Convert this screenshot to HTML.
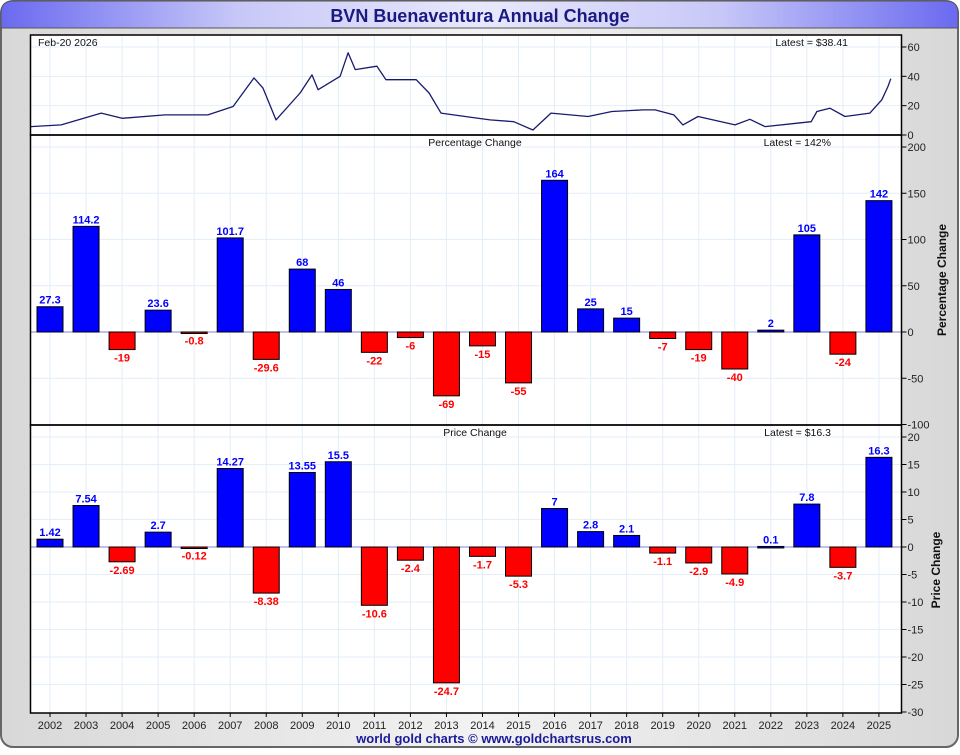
<!DOCTYPE html>
<html><head><meta charset="utf-8">
<style>
html,body{margin:0;padding:0;background:#fff;}
body{width:960px;height:750px;overflow:hidden;font-family:"Liberation Sans",sans-serif;}
svg text{font-family:"Liberation Sans",sans-serif;}
</style></head>
<body>
<svg id="chart" width="960" height="750" viewBox="0 0 960 750" xmlns="http://www.w3.org/2000/svg">
<defs>
<linearGradient id="tg" x1="0" x2="1" y1="0" y2="0">
<stop offset="0" stop-color="#6a6af0"/><stop offset="0.25" stop-color="#c8c8f8"/><stop offset="0.5" stop-color="#e8e8fc"/><stop offset="0.75" stop-color="#c8c8f8"/><stop offset="1" stop-color="#6a6af0"/>
</linearGradient>
<linearGradient id="bg" x1="0" x2="1" y1="0" y2="0">
<stop offset="0" stop-color="#d8d8d8"/><stop offset="0.5" stop-color="#f2f2f2"/><stop offset="1" stop-color="#d8d8d8"/>
</linearGradient>
</defs>
<rect x="1" y="1" width="957" height="746" rx="12" fill="url(#bg)" stroke="#666" stroke-width="2"/>
<path d="M1,28 L1,13 Q1,1 13,1 L946,1 Q958,1 958,13 L958,28 Z" fill="url(#tg)" stroke="#555" stroke-width="1"/>
<text x="480" y="22" text-anchor="middle" font-size="18" font-weight="bold" fill="#1a1a80">BVN Buenaventura Annual Change</text>
<g id="g"></g>
<text x="494" y="743" text-anchor="middle" font-size="13" font-weight="bold" fill="#1a1a9a">world gold charts © www.goldchartsrus.com</text>
</svg>
<script>
const years=[2002,2003,2004,2005,2006,2007,2008,2009,2010,2011,2012,2013,2014,2015,2016,2017,2018,2019,2020,2021,2022,2023,2024,2025];
const pctValues=[27.3,114.2,-19,23.6,-0.8,101.7,-29.6,68,46,-22,-6,-69,-15,-55,164,25,15,-7,-19,-40,2,105,-24,142];
const priceValues=[1.42,7.54,-2.69,2.7,-0.12,14.27,-8.38,13.55,15.5,-10.6,-2.4,-24.7,-1.7,-5.3,7,2.8,2.1,-1.1,-2.9,-4.9,0.1,7.8,-3.7,16.3];
const priceLabels=["1.42","7.54","-2.69","2.7","-0.12","14.27","-8.38","13.55","15.5","-10.6","-2.4","-24.7","-1.7","-5.3","7","2.8","2.1","-1.1","-2.9","-4.9","0.1","7.8","-3.7","16.3"];
const lineDates=[2001.97,2002.81,2003.92,2004.50,2005.69,2006.88,2007.58,2008.16,2008.41,2008.66,2008.77,2009.44,2009.77,2009.94,2010.55,2010.77,2010.97,2011.57,2011.82,2012.66,2013.02,2013.35,2014.02,2014.71,2015.37,2015.90,2016.40,2017.43,2018.09,2018.95,2019.29,2019.81,2020.06,2020.48,2021.51,2021.92,2022.34,2023.20,2023.62,2023.78,2024.14,2024.56,2025.25,2025.58,2025.75,2025.83];
const lineValues=[5.7,6.9,14.9,11.4,13.7,13.7,19.4,38.9,32,17,10.3,28.6,41,30.9,40,56,44.6,46.9,37.7,37.7,28.6,14.9,12.6,10.3,9.1,3.4,14.9,12.6,16,17.1,17.1,13.7,6.9,12.6,6.9,10.7,5.7,8,9.1,16,18.3,12.6,14.9,24,33,38.4];
const topTicks=[0,20,40,60];
const pctTicks=[-100,-50,0,50,100,150,200];
const priceTicks=[-30,-25,-20,-15,-10,-5,0,5,10,15,20];

const NS="http://www.w3.org/2000/svg";
const G=document.getElementById('g');
function el(tag,attrs,parent,txt){const e=document.createElementNS(NS,tag);for(const k in attrs)e.setAttribute(k,attrs[k]);if(txt!==undefined)e.textContent=txt;(parent||G).appendChild(e);return e;}
const L=30.5,R=901.5;
const xYear=y=>50+(y-2002)*36.04;
const xDate=d=>50+(d-2002.5)*36.04;
const yTop=v=>135-v*1.467;
const yPct=v=>332-v*0.925;
const yPrice=v=>547-v*5.5;

const panels=[{t:35,b:135},{t:135,b:425},{t:425,b:713}];
panels.forEach((p,i)=>{
  const r=el('rect',{x:L,y:p.t,width:R-L,height:p.b-p.t,fill:'#fff'});
  
  
  years.forEach(y=>{const g=el('line',{x1:xYear(y),x2:xYear(y),y1:p.t,y2:p.b,stroke:'#e2eef8','stroke-width':1});
    
    });
});
function hgrid(ticks,fy,p,name){
  ticks.forEach(t=>{const yy=fy(t);
    if(yy>p.t+1&&yy<p.b-1){const g=el('line',{x1:L,x2:R,y1:yy,y2:yy,stroke:'#e2eef8','stroke-width':1});
      
      }
    const tk=el('line',{x1:R,x2:R+5,y1:yy,y2:yy,stroke:'#000'});
    
    
    const tl=el('text',{x:R+6,y:yy+4,'font-size':11,fill:'#222'},G,String(t));
    
    
  });
}
hgrid(topTicks,yTop,panels[0],'price-axis');
hgrid(pctTicks,yPct,panels[1],'percentage-axis');
hgrid(priceTicks,yPrice,panels[2],'price-change-axis');

// price line
let d='';lineDates.forEach((dt,i)=>{d+=(i?'L':'M')+xDate(dt).toFixed(1)+','+yTop(lineValues[i]).toFixed(1);});
const pl=el('path',{d:d,fill:'none',stroke:'#1a1a6e','stroke-width':1.3,'stroke-linejoin':'round'});



// zero lines
[[yPct(0),'percentage-zero-line'],[yPrice(0),'price-change-zero-line']].forEach(z=>{
  const l=el('line',{x1:L,x2:R,y1:z[0],y2:z[0],stroke:'#8080e0','stroke-width':1});
  
  
});

function bars(vals,labels,fy,name){
  vals.forEach((v,i)=>{
    const cx=xYear(years[i]);const y0=fy(0),y1=fy(v);
    const b=el('rect',{x:cx-13,y:Math.min(y0,y1),width:26,height:Math.max(Math.abs(y1-y0),1.5),fill:v>=0?'#0000ff':'#ff0000',stroke:'#000','stroke-width':1});
    
    
    const ty=v>=0?Math.min(y0,y1)-3:Math.max(y0,y1)+12;
    const t=el('text',{x:cx,y:ty,'text-anchor':'middle','font-size':11,'font-weight':'bold',fill:v>=0?'#0000ff':'#ff0000'},G,labels[i]);
    
    
  });
}
bars(pctValues,pctValues.map(String),yPct,'percentage');
bars(priceValues,priceLabels,yPrice,'price-change');

// panel borders
panels.forEach(p=>{const r=el('rect',{x:L,y:p.t,width:R-L,height:p.b-p.t,fill:'none',stroke:'#000','stroke-width':1.5});
  
  });

// x labels
years.forEach(y=>{
  const tk=el('line',{x1:xYear(y),x2:xYear(y),y1:713,y2:717,stroke:'#000'});
  
  
  const t=el('text',{x:xYear(y),y:729,'text-anchor':'middle','font-size':11,fill:'#222'},G,String(y));
  
  
});

const texts=[
 [38,46,'start','Feb-20  2026','date-label'],
 [848,46,'end','Latest = $38.41','latest-price-label'],
 [475,146,'middle','Percentage Change','percentage-panel-title'],
 [831,146,'end','Latest = 142%','latest-percentage-label'],
 [475,436,'middle','Price Change','price-change-panel-title'],
 [831,436,'end','Latest = $16.3','latest-price-change-label']];
texts.forEach(a=>{const t=el('text',{x:a[0],y:a[1],'text-anchor':a[2],'font-size':10.5,fill:'#111'},G,a[3]);
  
  });

const a1=el('text',{transform:'translate(946,280) rotate(-90)','text-anchor':'middle','font-size':12,'font-weight':'bold',fill:'#111'},G,'Percentage Change');


const a2=el('text',{transform:'translate(940,570) rotate(-90)','text-anchor':'middle','font-size':12,'font-weight':'bold',fill:'#111'},G,'Price Change');


</script>
</body></html>
